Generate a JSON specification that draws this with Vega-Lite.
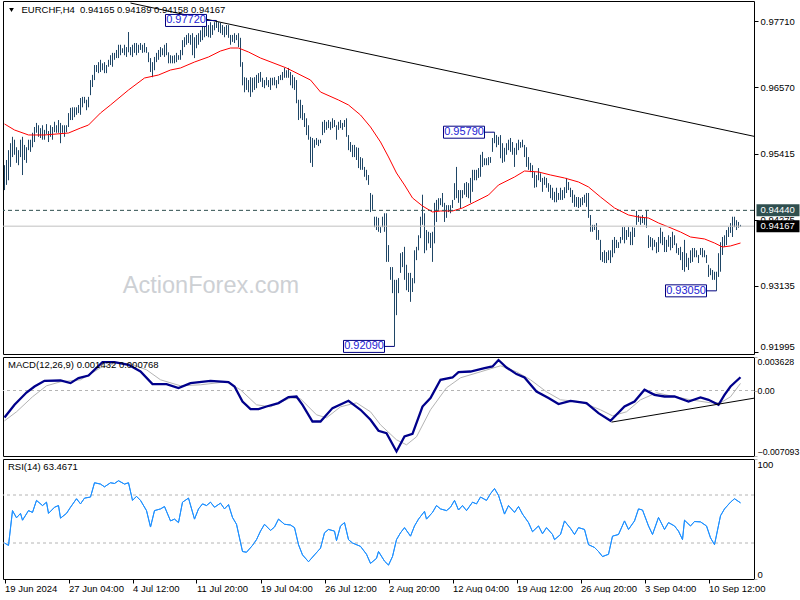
{
"$schema":"https://vega.github.io/schema/vega-lite/v6.json",
"background":"white",
"padding":{"left":-1,"top":0,"right":0,"bottom":0},
"bounds":"flush",
"spacing":3,
"config":{"view":{"stroke":"#000","strokeWidth":1},"axis":{"labelFont":"Liberation Sans","labelFontSize":9.5,"labelColor":"#000","tickColor":"#000","domain":false,"grid":false,"labelOverlap":false}},
"datasets":{
"one":[{}],
"bars":[
{"i":0,"h":0.9522,"l":0.9479},{"i":1,"h":0.9531,"l":0.9488},{"i":2,"h":0.9548,"l":0.9496},{"i":3,"h":0.9560,"l":0.9519},{"i":4,"h":0.9571,"l":0.9536},{"i":5,"h":0.9566,"l":0.9540},{"i":6,"h":0.9553,"l":0.9526},{"i":7,"h":0.9548,"l":0.9522},{"i":8,"h":0.9566,"l":0.9536},{"i":9,"h":0.9571,"l":0.9505},
{"i":10,"h":0.9557,"l":0.9531},{"i":11,"h":0.9553,"l":0.9526},{"i":12,"h":0.9566,"l":0.9548},{"i":13,"h":0.9566,"l":0.9545},{"i":14,"h":0.9578,"l":0.9553},{"i":15,"h":0.9588,"l":0.9562},{"i":16,"h":0.9595,"l":0.9578},{"i":17,"h":0.9591,"l":0.9571},{"i":18,"h":0.9586,"l":0.9569},{"i":19,"h":0.9591,"l":0.9566},
{"i":20,"h":0.9583,"l":0.9566},{"i":21,"h":0.9593,"l":0.9576},{"i":22,"h":0.9581,"l":0.9562},{"i":23,"h":0.9591,"l":0.9571},{"i":24,"h":0.9588,"l":0.9566},{"i":25,"h":0.9597,"l":0.9579},{"i":26,"h":0.9591,"l":0.9578},{"i":27,"h":0.9600,"l":0.9578},{"i":28,"h":0.9595,"l":0.9560},{"i":29,"h":0.9591,"l":0.9578},
{"i":30,"h":0.9591,"l":0.9571},{"i":31,"h":0.9591,"l":0.9579},{"i":32,"h":0.9612,"l":0.9588},{"i":33,"h":0.9621,"l":0.9600},{"i":34,"h":0.9622,"l":0.9600},{"i":35,"h":0.9622,"l":0.9605},{"i":36,"h":0.9622,"l":0.9609},{"i":37,"h":0.9626,"l":0.9612},{"i":38,"h":0.9638,"l":0.9609},{"i":39,"h":0.9640,"l":0.9622},
{"i":40,"h":0.9640,"l":0.9629},{"i":41,"h":0.9635,"l":0.9617},{"i":42,"h":0.9640,"l":0.9622},{"i":43,"h":0.9669,"l":0.9643},{"i":44,"h":0.9678,"l":0.9657},{"i":45,"h":0.9695,"l":0.9669},{"i":46,"h":0.9695,"l":0.9683},{"i":47,"h":0.9700,"l":0.9681},{"i":48,"h":0.9704,"l":0.9683},{"i":49,"h":0.9698,"l":0.9686},
{"i":50,"h":0.9700,"l":0.9681},{"i":51,"h":0.9695,"l":0.9681},{"i":52,"h":0.9704,"l":0.9692},{"i":53,"h":0.9712,"l":0.9695},{"i":54,"h":0.9716,"l":0.9692},{"i":55,"h":0.9716,"l":0.9704},{"i":56,"h":0.9721,"l":0.9707},{"i":57,"h":0.9730,"l":0.9707},{"i":58,"h":0.9730,"l":0.9712},{"i":59,"h":0.9724,"l":0.9716},
{"i":60,"h":0.9730,"l":0.9712},{"i":61,"h":0.9726,"l":0.9709},{"i":62,"h":0.9752,"l":0.9717},{"i":63,"h":0.9726,"l":0.9712},{"i":64,"h":0.9730,"l":0.9709},{"i":65,"h":0.9733,"l":0.9716},{"i":66,"h":0.9733,"l":0.9712},{"i":67,"h":0.9730,"l":0.9716},{"i":68,"h":0.9733,"l":0.9721},{"i":69,"h":0.9730,"l":0.9716},
{"i":70,"h":0.9733,"l":0.9717},{"i":71,"h":0.9726,"l":0.9716},{"i":72,"h":0.9717,"l":0.9700},{"i":73,"h":0.9707,"l":0.9683},{"i":74,"h":0.9700,"l":0.9674},{"i":75,"h":0.9709,"l":0.9686},{"i":76,"h":0.9716,"l":0.9700},{"i":77,"h":0.9721,"l":0.9704},{"i":78,"h":0.9726,"l":0.9709},{"i":79,"h":0.9724,"l":0.9712},
{"i":80,"h":0.9730,"l":0.9709},{"i":81,"h":0.9733,"l":0.9712},{"i":82,"h":0.9717,"l":0.9698},{"i":83,"h":0.9712,"l":0.9698},{"i":84,"h":0.9711,"l":0.9698},{"i":85,"h":0.9712,"l":0.9698},{"i":86,"h":0.9716,"l":0.9700},{"i":87,"h":0.9712,"l":0.9704},{"i":88,"h":0.9721,"l":0.9704},{"i":89,"h":0.9738,"l":0.9712},
{"i":90,"h":0.9743,"l":0.9726},{"i":91,"h":0.9747,"l":0.9730},{"i":92,"h":0.9750,"l":0.9733},{"i":93,"h":0.9747,"l":0.9730},{"i":94,"h":0.9750,"l":0.9712},{"i":95,"h":0.9743,"l":0.9707},{"i":96,"h":0.9747,"l":0.9724},{"i":97,"h":0.9750,"l":0.9730},{"i":98,"h":0.9755,"l":0.9735},{"i":99,"h":0.9768,"l":0.9738},
{"i":100,"h":0.9764,"l":0.9743},{"i":101,"h":0.9769,"l":0.9745},{"i":102,"h":0.9764,"l":0.9743},{"i":103,"h":0.9769,"l":0.9742},{"i":104,"h":0.9764,"l":0.9747},{"i":105,"h":0.9769,"l":0.9755},{"i":106,"h":0.9772,"l":0.9759},{"i":107,"h":0.9769,"l":0.9752},{"i":108,"h":0.9768,"l":0.9750},{"i":109,"h":0.9764,"l":0.9747},
{"i":110,"h":0.9761,"l":0.9743},{"i":111,"h":0.9764,"l":0.9747},{"i":112,"h":0.9764,"l":0.9742},{"i":113,"h":0.9747,"l":0.9730},{"i":114,"h":0.9747,"l":0.9735},{"i":115,"h":0.9750,"l":0.9733},{"i":116,"h":0.9747,"l":0.9738},{"i":117,"h":0.9750,"l":0.9726},{"i":118,"h":0.9742,"l":0.9692},{"i":119,"h":0.9700,"l":0.9660},
{"i":120,"h":0.9674,"l":0.9648},{"i":121,"h":0.9673,"l":0.9652},{"i":122,"h":0.9669,"l":0.9648},{"i":123,"h":0.9674,"l":0.9640},{"i":124,"h":0.9673,"l":0.9648},{"i":125,"h":0.9674,"l":0.9652},{"i":126,"h":0.9678,"l":0.9655},{"i":127,"h":0.9681,"l":0.9664},{"i":128,"h":0.9683,"l":0.9666},{"i":129,"h":0.9673,"l":0.9657},
{"i":130,"h":0.9669,"l":0.9655},{"i":131,"h":0.9674,"l":0.9660},{"i":132,"h":0.9669,"l":0.9657},{"i":133,"h":0.9673,"l":0.9652},{"i":134,"h":0.9673,"l":0.9660},{"i":135,"h":0.9674,"l":0.9660},{"i":136,"h":0.9669,"l":0.9655},{"i":137,"h":0.9676,"l":0.9662},{"i":138,"h":0.9678,"l":0.9669},{"i":139,"h":0.9683,"l":0.9669},
{"i":140,"h":0.9690,"l":0.9673},{"i":141,"h":0.9686,"l":0.9673},{"i":142,"h":0.9690,"l":0.9673},{"i":143,"h":0.9683,"l":0.9660},{"i":144,"h":0.9678,"l":0.9655},{"i":145,"h":0.9674,"l":0.9652},{"i":146,"h":0.9669,"l":0.9629},{"i":147,"h":0.9635,"l":0.9600},{"i":148,"h":0.9635,"l":0.9603},{"i":149,"h":0.9626,"l":0.9600},
{"i":150,"h":0.9612,"l":0.9588},{"i":151,"h":0.9603,"l":0.9574},{"i":152,"h":0.9591,"l":0.9566},{"i":153,"h":0.9571,"l":0.9526},{"i":154,"h":0.9569,"l":0.9519},{"i":155,"h":0.9566,"l":0.9552},{"i":156,"h":0.9569,"l":0.9557},{"i":157,"h":0.9566,"l":0.9555},{"i":158,"h":0.9566,"l":0.9560},{"i":159,"h":0.9597,"l":0.9574},
{"i":160,"h":0.9600,"l":0.9578},{"i":161,"h":0.9597,"l":0.9583},{"i":162,"h":0.9600,"l":0.9586},{"i":163,"h":0.9597,"l":0.9583},{"i":164,"h":0.9603,"l":0.9586},{"i":165,"h":0.9600,"l":0.9588},{"i":166,"h":0.9591,"l":0.9566},{"i":167,"h":0.9597,"l":0.9583},{"i":168,"h":0.9600,"l":0.9586},{"i":169,"h":0.9595,"l":0.9583},
{"i":170,"h":0.9600,"l":0.9588},{"i":171,"h":0.9603,"l":0.9571},{"i":172,"h":0.9574,"l":0.9548},{"i":173,"h":0.9562,"l":0.9545},{"i":174,"h":0.9557,"l":0.9536},{"i":175,"h":0.9557,"l":0.9536},{"i":176,"h":0.9553,"l":0.9531},{"i":177,"h":0.9552,"l":0.9517},{"i":178,"h":0.9536,"l":0.9514},{"i":179,"h":0.9534,"l":0.9514},
{"i":180,"h":0.9519,"l":0.9502},{"i":181,"h":0.9514,"l":0.9496},{"i":182,"h":0.9505,"l":0.9488},{"i":183,"h":0.9474,"l":0.9441},{"i":184,"h":0.9471,"l":0.9445},{"i":185,"h":0.9433,"l":0.9415},{"i":186,"h":0.9433,"l":0.9410},{"i":187,"h":0.9431,"l":0.9407},{"i":188,"h":0.9415,"l":0.9405},{"i":189,"h":0.9433,"l":0.9415},
{"i":190,"h":0.9439,"l":0.9407},{"i":191,"h":0.9439,"l":0.9355},{"i":192,"h":0.9384,"l":0.9355},{"i":193,"h":0.9346,"l":0.9324},{"i":194,"h":0.9346,"l":0.9301},{"i":195,"h":0.9324,"l":0.9209},{"i":196,"h":0.9324,"l":0.9263},{"i":197,"h":0.9327,"l":0.9301},{"i":198,"h":0.9370,"l":0.9336},{"i":199,"h":0.9372,"l":0.9346},
{"i":200,"h":0.9381,"l":0.9324},{"i":201,"h":0.9350,"l":0.9306},{"i":202,"h":0.9336,"l":0.9303},{"i":203,"h":0.9336,"l":0.9286},{"i":204,"h":0.9327,"l":0.9303},{"i":205,"h":0.9375,"l":0.9318},{"i":206,"h":0.9381,"l":0.9358},{"i":207,"h":0.9401,"l":0.9375},{"i":208,"h":0.9433,"l":0.9396},{"i":209,"h":0.9471,"l":0.9419},
{"i":210,"h":0.9439,"l":0.9370},{"i":211,"h":0.9410,"l":0.9375},{"i":212,"h":0.9407,"l":0.9387},{"i":213,"h":0.9405,"l":0.9379},{"i":214,"h":0.9407,"l":0.9355},{"i":215,"h":0.9457,"l":0.9387},{"i":216,"h":0.9462,"l":0.9424},{"i":217,"h":0.9465,"l":0.9445},{"i":218,"h":0.9465,"l":0.9453},{"i":219,"h":0.9474,"l":0.9450},
{"i":220,"h":0.9457,"l":0.9424},{"i":221,"h":0.9453,"l":0.9431},{"i":222,"h":0.9453,"l":0.9441},{"i":223,"h":0.9453,"l":0.9439},{"i":224,"h":0.9462,"l":0.9448},{"i":225,"h":0.9491,"l":0.9462},{"i":226,"h":0.9519,"l":0.9465},{"i":227,"h":0.9479,"l":0.9457},{"i":228,"h":0.9479,"l":0.9448},{"i":229,"h":0.9479,"l":0.9465},
{"i":230,"h":0.9491,"l":0.9471},{"i":231,"h":0.9493,"l":0.9467},{"i":232,"h":0.9491,"l":0.9465},{"i":233,"h":0.9500,"l":0.9457},{"i":234,"h":0.9514,"l":0.9476},{"i":235,"h":0.9514,"l":0.9496},{"i":236,"h":0.9514,"l":0.9496},{"i":237,"h":0.9517,"l":0.9500},{"i":238,"h":0.9540,"l":0.9502},{"i":239,"h":0.9545,"l":0.9519},
{"i":240,"h":0.9534,"l":0.9522},{"i":241,"h":0.9534,"l":0.9522},{"i":242,"h":0.9536,"l":0.9522},{"i":243,"h":0.9536,"l":0.9526},{"i":244,"h":0.9569,"l":0.9545},{"i":245,"h":0.9579,"l":0.9560},{"i":246,"h":0.9574,"l":0.9553},{"i":247,"h":0.9571,"l":0.9557},{"i":248,"h":0.9574,"l":0.9534},{"i":249,"h":0.9560,"l":0.9526},
{"i":250,"h":0.9552,"l":0.9528},{"i":251,"h":0.9560,"l":0.9540},{"i":252,"h":0.9566,"l":0.9548},{"i":253,"h":0.9569,"l":0.9545},{"i":254,"h":0.9562,"l":0.9540},{"i":255,"h":0.9552,"l":0.9519},{"i":256,"h":0.9560,"l":0.9540},{"i":257,"h":0.9566,"l":0.9548},{"i":258,"h":0.9562,"l":0.9552},{"i":259,"h":0.9566,"l":0.9553},
{"i":260,"h":0.9557,"l":0.9536},{"i":261,"h":0.9553,"l":0.9519},{"i":262,"h":0.9536,"l":0.9514},{"i":263,"h":0.9526,"l":0.9510},{"i":264,"h":0.9522,"l":0.9500},{"i":265,"h":0.9510,"l":0.9483},{"i":266,"h":0.9505,"l":0.9484},{"i":267,"h":0.9517,"l":0.9496},{"i":268,"h":0.9508,"l":0.9493},{"i":269,"h":0.9500,"l":0.9476},
{"i":270,"h":0.9502,"l":0.9488},{"i":271,"h":0.9500,"l":0.9483},{"i":272,"h":0.9491,"l":0.9476},{"i":273,"h":0.9488,"l":0.9465},{"i":274,"h":0.9483,"l":0.9462},{"i":275,"h":0.9476,"l":0.9458},{"i":276,"h":0.9483,"l":0.9458},{"i":277,"h":0.9474,"l":0.9462},{"i":278,"h":0.9483,"l":0.9462},{"i":279,"h":0.9479,"l":0.9462},
{"i":280,"h":0.9484,"l":0.9465},{"i":281,"h":0.9500,"l":0.9474},{"i":282,"h":0.9493,"l":0.9479},{"i":283,"h":0.9483,"l":0.9467},{"i":284,"h":0.9479,"l":0.9457},{"i":285,"h":0.9471,"l":0.9450},{"i":286,"h":0.9467,"l":0.9450},{"i":287,"h":0.9467,"l":0.9448},{"i":288,"h":0.9465,"l":0.9450},{"i":289,"h":0.9467,"l":0.9453},
{"i":290,"h":0.9471,"l":0.9457},{"i":291,"h":0.9474,"l":0.9450},{"i":292,"h":0.9474,"l":0.9431},{"i":293,"h":0.9436,"l":0.9407},{"i":294,"h":0.9419,"l":0.9407},{"i":295,"h":0.9419,"l":0.9410},{"i":296,"h":0.9422,"l":0.9393},{"i":297,"h":0.9410,"l":0.9393},{"i":298,"h":0.9393,"l":0.9358},{"i":299,"h":0.9372,"l":0.9355},
{"i":300,"h":0.9375,"l":0.9353},{"i":301,"h":0.9372,"l":0.9353},{"i":302,"h":0.9375,"l":0.9358},{"i":303,"h":0.9375,"l":0.9353},{"i":304,"h":0.9393,"l":0.9363},{"i":305,"h":0.9398,"l":0.9370},{"i":306,"h":0.9393,"l":0.9379},{"i":307,"h":0.9389,"l":0.9379},{"i":308,"h":0.9398,"l":0.9387},{"i":309,"h":0.9415,"l":0.9393},
{"i":310,"h":0.9415,"l":0.9387},{"i":311,"h":0.9410,"l":0.9393},{"i":312,"h":0.9415,"l":0.9398},{"i":313,"h":0.9407,"l":0.9384},{"i":314,"h":0.9415,"l":0.9384},{"i":315,"h":0.9414,"l":0.9398},{"i":316,"h":0.9443,"l":0.9419},{"i":317,"h":0.9436,"l":0.9424},{"i":318,"h":0.9433,"l":0.9419},{"i":319,"h":0.9436,"l":0.9422},
{"i":320,"h":0.9431,"l":0.9419},{"i":321,"h":0.9444,"l":0.9414},{"i":322,"h":0.9401,"l":0.9379},{"i":323,"h":0.9398,"l":0.9381},{"i":324,"h":0.9396,"l":0.9375},{"i":325,"h":0.9393,"l":0.9381},{"i":326,"h":0.9389,"l":0.9370},{"i":327,"h":0.9398,"l":0.9372},{"i":328,"h":0.9414,"l":0.9387},{"i":329,"h":0.9407,"l":0.9384},
{"i":330,"h":0.9398,"l":0.9372},{"i":331,"h":0.9393,"l":0.9372},{"i":332,"h":0.9401,"l":0.9381},{"i":333,"h":0.9398,"l":0.9375},{"i":334,"h":0.9407,"l":0.9379},{"i":335,"h":0.9401,"l":0.9384},{"i":336,"h":0.9387,"l":0.9370},{"i":337,"h":0.9379,"l":0.9367},{"i":338,"h":0.9381,"l":0.9358},{"i":339,"h":0.9372,"l":0.9341},
{"i":340,"h":0.9393,"l":0.9338},{"i":341,"h":0.9370,"l":0.9346},{"i":342,"h":0.9362,"l":0.9341},{"i":343,"h":0.9375,"l":0.9353},{"i":344,"h":0.9379,"l":0.9355},{"i":345,"h":0.9379,"l":0.9363},{"i":346,"h":0.9375,"l":0.9363},{"i":347,"h":0.9367,"l":0.9353},{"i":348,"h":0.9379,"l":0.9367},{"i":349,"h":0.9379,"l":0.9363},
{"i":350,"h":0.9375,"l":0.9363},{"i":351,"h":0.9367,"l":0.9353},{"i":352,"h":0.9350,"l":0.9329},{"i":353,"h":0.9344,"l":0.9332},{"i":354,"h":0.9341,"l":0.9324},{"i":355,"h":0.9338,"l":0.9324},{"i":356,"h":0.9338,"l":0.9305},{"i":357,"h":0.9370,"l":0.9329},{"i":358,"h":0.9389,"l":0.9338},{"i":359,"h":0.9398,"l":0.9367},
{"i":360,"h":0.9401,"l":0.9381},{"i":361,"h":0.9410,"l":0.9384},{"i":362,"h":0.9415,"l":0.9398},{"i":363,"h":0.9422,"l":0.9405},{"i":364,"h":0.9433,"l":0.9398},{"i":365,"h":0.9433,"l":0.9415},{"i":366,"h":0.9427,"l":0.9410},{"i":367,"h":0.9424,"l":0.9414},{"i":368,"h":0.94189,"l":0.94158}
],
"ma":[
{"i":0,"v":0.95932},{"i":5,"v":0.95828},{"i":12,"v":0.95742},{"i":20,"v":0.95742},{"i":32,"v":0.95776},{"i":38,"v":0.95862},{"i":42,"v":0.95914},{"i":48,"v":0.96122},{"i":53,"v":0.9626},{"i":62,"v":0.96519},{"i":70,"v":0.96726},{"i":77,"v":0.96778},{"i":83,"v":0.96864},{"i":88,"v":0.96899},{"i":95,"v":0.97002},{"i":102,"v":0.97089},{"i":108,"v":0.97192},{"i":113,"v":0.97244},{"i":117,"v":0.97244},{"i":122,"v":0.97175},{"i":128,"v":0.97071},{"i":141,"v":0.96899},{"i":153,"v":0.96691},{"i":158,"v":0.96484},{"i":167,"v":0.96346},{"i":172,"v":0.9626},{"i":178,"v":0.96087},{"i":183,"v":0.9588},{"i":188,"v":0.95621},{"i":192,"v":0.95362},{"i":196,"v":0.95085},{"i":200,"v":0.94878},{"i":204,"v":0.94654},{"i":209,"v":0.94515},{"i":214,"v":0.94412},{"i":218,"v":0.94429},{"i":224,"v":0.94429},{"i":229,"v":0.94481},{"i":235,"v":0.94584},{"i":242,"v":0.94705},{"i":247,"v":0.94878},{"i":255,"v":0.95016},{"i":260,"v":0.9512},{"i":267,"v":0.95103},{"i":273,"v":0.95051},{"i":280,"v":0.94999},{"i":287,"v":0.9493},{"i":292,"v":0.94844},{"i":298,"v":0.94671},{"i":305,"v":0.94481},{"i":312,"v":0.9436},{"i":317,"v":0.94325},{"i":322,"v":0.94308},{"i":327,"v":0.94222},{"i":332,"v":0.94153},{"i":338,"v":0.94066},{"i":343,"v":0.9398},{"i":350,"v":0.93946},{"i":355,"v":0.93876},{"i":359,"v":0.93807},{"i":363,"v":0.93825},{"i":368,"v":0.93876}
],
"notes":[
{"t":"0.97720","i":106,"p":0.9772},{"t":"0.92090","i":195,"p":0.9209},{"t":"0.95790","i":245,"p":0.9579},{"t":"0.93050","i":356,"p":0.9305}
],
"macd":[
{"i":0,"m":-0.002924},{"i":5,"m":-0.001549},{"i":11,"m":-0.000217},{"i":15,"m":0.000433},{"i":20,"m":0.001051},{"i":28,"m":0.001083},{"i":33,"m":0.000801},{"i":37,"m":0.001343},{"i":42,"m":0.001625},{"i":49,"m":0.003076},{"i":55,"m":0.003076},{"i":62,"m":0.002783},{"i":68,"m":0.002058},{"i":74,"m":0.000693},{"i":81,"m":0.000693},{"i":87,"m":0.00026},{"i":93,"m":0.000801},{"i":103,"m":0.001051},{"i":112,"m":0.00091},{"i":115,"m":0.000433},{"i":119,"m":-0.001191},{"i":123,"m":-0.002014},{"i":127,"m":-0.002014},{"i":131,"m":-0.001733},{"i":137,"m":-0.001365},{"i":142,"m":-0.000715},{"i":146,"m":-0.00065},{"i":149,"m":-0.001549},{"i":154,"m":-0.003357},{"i":158,"m":-0.003357},{"i":164,"m":-0.001906},{"i":172,"m":-0.001115},{"i":178,"m":-0.00209},{"i":183,"m":-0.003173},{"i":187,"m":-0.004364},{"i":191,"m":-0.004614},{"i":196,"m":-0.0066},{"i":200,"m":-0.004982},{"i":204,"m":-0.004689},{"i":209,"m":-0.001733},{"i":213,"m":-0.000823},{"i":218,"m":0.001159},{"i":224,"m":0.001408},{"i":227,"m":0.001993},{"i":233,"m":0.002058},{"i":240,"m":0.002426},{"i":244,"m":0.002599},{"i":247,"m":0.0033},{"i":251,"m":0.002491},{"i":256,"m":0.001776},{"i":260,"m":0.001408},{"i":266,"m":-0.000108},{"i":272,"m":-0.000823},{"i":277,"m":-0.001473},{"i":283,"m":-0.001115},{"i":291,"m":-0.001365},{"i":297,"m":-0.002448},{"i":303,"m":-0.003281},{"i":310,"m":-0.001733},{"i":315,"m":-0.001191},{"i":320,"m":0.000076},{"i":325,"m":-0.000466},{"i":330,"m":-0.00065},{"i":335,"m":-0.00065},{"i":342,"m":-0.001191},{"i":348,"m":-0.000758},{"i":352,"m":-0.001007},{"i":357,"m":-0.001549},{"i":360,"m":-0.000466},{"i":363,"m":0.000433},{"i":368,"m":0.001432}
],
"sig":[
{"i":0,"s":-0.003281},{"i":6,"s":-0.002307},{"i":14,"s":-0.000682},{"i":21,"s":0.000509},{"i":28,"s":0.000942},{"i":38,"s":0.001159},{"i":48,"s":0.002458},{"i":56,"s":0.003},{"i":63,"s":0.002892},{"i":71,"s":0.002242},{"i":78,"s":0.001159},{"i":88,"s":0.000509},{"i":98,"s":0.000617},{"i":111,"s":0.000942},{"i":118,"s":0.000076},{"i":126,"s":-0.001549},{"i":133,"s":-0.001765},{"i":143,"s":-0.000791},{"i":148,"s":-0.000899},{"i":156,"s":-0.002632},{"i":161,"s":-0.002957},{"i":168,"s":-0.001765},{"i":176,"s":-0.001332},{"i":183,"s":-0.002307},{"i":188,"s":-0.003715},{"i":196,"s":-0.005339},{"i":201,"s":-0.005881},{"i":206,"s":-0.005014},{"i":213,"s":-0.00209},{"i":221,"s":0.000292},{"i":228,"s":0.001375},{"i":238,"s":0.002025},{"i":248,"s":0.002675},{"i":256,"s":0.002025},{"i":263,"s":0.001159},{"i":271,"s":-0.000141},{"i":278,"s":-0.001007},{"i":288,"s":-0.001224},{"i":298,"s":-0.00209},{"i":304,"s":-0.00274},{"i":311,"s":-0.002307},{"i":318,"s":-0.001007},{"i":326,"s":-0.000249},{"i":333,"s":-0.000574},{"i":343,"s":-0.001007},{"i":353,"s":-0.001332},{"i":358,"s":-0.001332},{"i":363,"s":-0.000682},{"i":368,"s":0.000768}
],
"rsi":[
{"i":0,"r":30},{"i":2,"r":28},{"i":4,"r":57},{"i":6,"r":51},{"i":8,"r":54.7},{"i":9,"r":49},{"i":12,"r":57},{"i":14,"r":55.5},{"i":16,"r":65.5},{"i":19,"r":61.2},{"i":21,"r":64},{"i":22,"r":54.7},{"i":25,"r":59.8},{"i":27,"r":61.2},{"i":28,"r":50.7},{"i":31,"r":54.7},{"i":33,"r":59.8},{"i":36,"r":66.9},{"i":38,"r":62.6},{"i":40,"r":67.4},{"i":43,"r":68.3},{"i":45,"r":80.2},{"i":48,"r":79.1},{"i":50,"r":76.8},{"i":53,"r":80.2},{"i":55,"r":79.6},{"i":57,"r":81.9},{"i":60,"r":79.1},{"i":62,"r":80.2},{"i":64,"r":65.5},{"i":66,"r":68.9},{"i":68,"r":65.5},{"i":71,"r":57},{"i":73,"r":43.3},{"i":75,"r":57},{"i":78,"r":58.4},{"i":80,"r":60.4},{"i":83,"r":48.4},{"i":85,"r":49.9},{"i":87,"r":47},{"i":89,"r":64},{"i":92,"r":67.4},{"i":95,"r":49.9},{"i":97,"r":58.4},{"i":99,"r":62.6},{"i":101,"r":61.2},{"i":103,"r":64},{"i":105,"r":59.8},{"i":108,"r":63.2},{"i":110,"r":58.4},{"i":112,"r":62},{"i":114,"r":51.3},{"i":116,"r":45.6},{"i":119,"r":22.9},{"i":121,"r":22.3},{"i":124,"r":28},{"i":126,"r":32.8},{"i":128,"r":39.9},{"i":130,"r":45.6},{"i":133,"r":40.5},{"i":135,"r":43.3},{"i":137,"r":49.9},{"i":140,"r":45.6},{"i":143,"r":45},{"i":145,"r":42.8},{"i":147,"r":28.6},{"i":149,"r":20.1},{"i":152,"r":14.4},{"i":155,"r":20.1},{"i":158,"r":25.7},{"i":160,"r":38.5},{"i":162,"r":41.3},{"i":165,"r":39.9},{"i":166,"r":32},{"i":168,"r":44.2},{"i":170,"r":47},{"i":172,"r":32.8},{"i":174,"r":30},{"i":178,"r":27.2},{"i":181,"r":20.6},{"i":183,"r":13},{"i":186,"r":17.2},{"i":187,"r":22.9},{"i":190,"r":14.9},{"i":192,"r":11.6},{"i":194,"r":18.7},{"i":196,"r":32.8},{"i":198,"r":38.5},{"i":200,"r":42.8},{"i":203,"r":35.7},{"i":205,"r":44.2},{"i":207,"r":49.9},{"i":210,"r":56.4},{"i":211,"r":49.9},{"i":214,"r":55.5},{"i":216,"r":61.2},{"i":218,"r":58.4},{"i":221,"r":57},{"i":223,"r":59.8},{"i":225,"r":65.5},{"i":227,"r":57.5},{"i":229,"r":61.2},{"i":231,"r":57},{"i":234,"r":64},{"i":236,"r":62.6},{"i":238,"r":68.3},{"i":241,"r":65.5},{"i":243,"r":71.1},{"i":245,"r":75.4},{"i":247,"r":69.7},{"i":250,"r":54.1},{"i":252,"r":61.2},{"i":255,"r":55.5},{"i":257,"r":60.4},{"i":259,"r":54.1},{"i":262,"r":47},{"i":264,"r":39.4},{"i":267,"r":44.2},{"i":269,"r":37.7},{"i":271,"r":42.8},{"i":274,"r":37.1},{"i":275,"r":32.8},{"i":278,"r":37.1},{"i":280,"r":48.4},{"i":283,"r":42.2},{"i":285,"r":37.1},{"i":287,"r":42.8},{"i":290,"r":41.3},{"i":292,"r":28.6},{"i":295,"r":26.3},{"i":297,"r":22.9},{"i":299,"r":18.7},{"i":302,"r":20.6},{"i":304,"r":35.7},{"i":307,"r":37.1},{"i":310,"r":48.4},{"i":312,"r":41.3},{"i":315,"r":48.4},{"i":317,"r":58.4},{"i":319,"r":57.5},{"i":322,"r":44.2},{"i":324,"r":37.1},{"i":327,"r":51.3},{"i":330,"r":41.3},{"i":332,"r":47},{"i":335,"r":44.2},{"i":337,"r":39.9},{"i":339,"r":32.8},{"i":340,"r":49},{"i":343,"r":44.2},{"i":345,"r":47.9},{"i":348,"r":47.6},{"i":351,"r":44.2},{"i":353,"r":34.3},{"i":355,"r":28.6},{"i":358,"r":52.7},{"i":360,"r":58.4},{"i":363,"r":64},{"i":365,"r":66.9},{"i":368,"r":63.4671}
]
},
"vconcat":[
{
"width":751,"height":353,
"layer":[
{"data":{"name":"bars"},"mark":{"type":"rule","color":"#1f4666","strokeWidth":1},
 "encoding":{
  "x":{"field":"i","type":"quantitative","scale":{"domain":[-0.75,374.75],"nice":false,"zero":false},"axis":null},
  "y":{"field":"l","type":"quantitative","scale":{"domain":[0.91959,0.98056],"nice":false,"zero":false},
   "axis":{"orient":"right","title":null,"values":[0.9771,0.9714,0.9657,0.95985,0.95415,0.94845,0.94275,0.93705,0.93135,0.92565,0.91995],"format":".5f","tickSize":4,"labelPadding":2,"labelFlush":3}},
  "y2":{"field":"h"}}},
{"data":{"name":"ma"},"mark":{"type":"line","color":"#ff0000","strokeWidth":1},
 "encoding":{"x":{"field":"i","type":"quantitative","axis":null},"y":{"field":"v","type":"quantitative","axis":{"title":null}}}},
{"data":{"values":[{"i":63,"p":0.98021},{"i":375,"p":0.95717}]},"mark":{"type":"line","color":"#000","strokeWidth":1},
 "encoding":{"x":{"field":"i","type":"quantitative","axis":null},"y":{"field":"p","type":"quantitative","axis":{"title":null}}}},
{"data":{"name":"one"},"mark":{"type":"rule","color":"#2f4f4f","strokeDash":[4,3],"strokeWidth":1},"encoding":{"y":{"datum":0.9444,"type":"quantitative","axis":{"title":null}}}},
{"data":{"name":"one"},"mark":{"type":"rule","color":"#c0c0c0","strokeWidth":1},"encoding":{"y":{"datum":0.94167,"type":"quantitative","axis":{"title":null}}}},
{"data":{"name":"notes"},"mark":{"type":"rect","fill":"white","stroke":"#000080","strokeWidth":1,"xOffset":-51,"x2Offset":-10,"yOffset":-6,"y2Offset":6},
 "encoding":{"x":{"field":"i","type":"quantitative","axis":null},"x2":{"field":"i"},"y":{"field":"p","type":"quantitative","axis":{"title":null}},"y2":{"field":"p"}}},
{"data":{"name":"notes"},"mark":{"type":"rule","color":"#000080","strokeWidth":1,"xOffset":-10},
 "encoding":{"x":{"field":"i","type":"quantitative","axis":null},"x2":{"field":"i"},"y":{"field":"p","type":"quantitative","axis":{"title":null}}}},
{"data":{"name":"notes"},"mark":{"type":"text","color":"#1c1cd4","font":"Liberation Sans","fontSize":11,"xOffset":-30.5,"align":"center","baseline":"middle"},
 "encoding":{"x":{"field":"i","type":"quantitative","axis":null},"y":{"field":"p","type":"quantitative","axis":{"title":null}},"text":{"field":"t"}}},
{"data":{"name":"one"},"mark":{"type":"rect","fill":"#2f4f4f","yOffset":-6,"y2Offset":6},"encoding":{"x":{"datum":376,"type":"quantitative","axis":null},"x2":{"datum":397.5},"y":{"datum":0.9444,"type":"quantitative","axis":{"title":null}},"y2":{"datum":0.9444}}},
{"data":{"name":"one"},"mark":{"type":"text","color":"white","font":"Liberation Sans","fontSize":9.5,"align":"left","baseline":"middle"},"encoding":{"x":{"datum":378,"type":"quantitative","axis":null},"y":{"datum":0.9444,"type":"quantitative","axis":{"title":null}},"text":{"value":"0.94440"}}},
{"data":{"name":"one"},"mark":{"type":"rect","fill":"#000","yOffset":-6,"y2Offset":6},"encoding":{"x":{"datum":376,"type":"quantitative","axis":null},"x2":{"datum":397.5},"y":{"datum":0.94167,"type":"quantitative","axis":{"title":null}},"y2":{"datum":0.94167}}},
{"data":{"name":"one"},"mark":{"type":"text","color":"white","font":"Liberation Sans","fontSize":9.5,"align":"left","baseline":"middle"},"encoding":{"x":{"datum":378,"type":"quantitative","axis":null},"y":{"datum":0.94167,"type":"quantitative","axis":{"title":null}},"text":{"value":"0.94167"}}},
{"data":{"name":"one"},"mark":{"type":"text","color":"#cdd0d4","font":"Liberation Sans","fontSize":23.5,"align":"center","baseline":"middle"},"encoding":{"x":{"datum":103.25,"type":"quantitative","axis":null},"y":{"datum":0.93134,"type":"quantitative","axis":{"title":null}},"text":{"value":"ActionForex.com"}}},
{"data":{"name":"one"},"mark":{"type":"point","shape":"triangle-down","filled":true,"color":"#000","size":22,"opacity":1},"encoding":{"x":{"datum":3.5,"type":"quantitative","axis":null},"y":{"datum":0.97901,"type":"quantitative","axis":{"title":null}}}},
{"data":{"name":"one"},"mark":{"type":"text","color":"#000","font":"Liberation Sans","fontSize":9.5,"align":"left","baseline":"middle"},"encoding":{"x":{"datum":8.5,"type":"quantitative","axis":null},"y":{"datum":0.97901,"type":"quantitative","axis":{"title":null}},"text":{"value":"EURCHF,H4\u00a0\u00a00.94165 0.94189 0.94158 0.94167"}}}
]
},
{
"width":751,"height":99,
"layer":[
{"data":{"name":"one"},"mark":{"type":"rule","color":"#b4b4b4","strokeDash":[3,3],"strokeWidth":1},"encoding":{"y":{"datum":0,"type":"quantitative","scale":{"domain":[-0.007093,0.003628],"nice":false,"zero":false},
  "axis":{"orient":"right","title":null,"values":[0.003628,0,-0.007093],"labelExpr":"datum.value == 0 ? '0.00' : format(datum.value, '.6f')","labelFlush":true,"labelFontSize":8.8,"tickSize":3,"tickColor":"#b4b4b4","labelPadding":0}}}},
{"data":{"name":"sig"},"mark":{"type":"line","color":"#b4b4b4","strokeWidth":1},
 "encoding":{"x":{"field":"i","type":"quantitative","scale":{"domain":[-0.75,374.75],"nice":false,"zero":false},"axis":null},"y":{"field":"s","type":"quantitative","axis":{"title":null}}}},
{"data":{"name":"macd"},"mark":{"type":"line","color":"#00008b","strokeWidth":2.3},
 "encoding":{"x":{"field":"i","type":"quantitative","axis":null},"y":{"field":"m","type":"quantitative","axis":{"title":null}}}},
{"data":{"values":[{"i":303.5,"m":-0.003422},{"i":375,"m":-0.000823}]},"mark":{"type":"line","color":"#000","strokeWidth":1},
 "encoding":{"x":{"field":"i","type":"quantitative","axis":null},"y":{"field":"m","type":"quantitative","axis":{"title":null}}}},
{"data":{"name":"one"},"mark":{"type":"text","color":"#000","font":"Liberation Sans","fontSize":9.5,"align":"left","baseline":"middle"},"encoding":{"x":{"datum":1.75,"type":"quantitative","axis":null},"y":{"datum":0.002762,"type":"quantitative","axis":{"title":null}},"text":{"value":"MACD(12,26,9) 0.001432 0.000768"}}}
]
},
{
"width":751,"height":120,
"layer":[
{"data":{"name":"rsi"},"mark":{"type":"line","color":"#1e90ff","strokeWidth":1},
 "encoding":{"x":{"field":"i","type":"quantitative","scale":{"domain":[-0.75,374.75],"nice":false,"zero":false},
   "axis":{"orient":"bottom","title":null,"values":[0,32,64,96,128,160,192,224,256,288,320,352],
   "labelExpr":"['19 Jun 2024','27 Jun 04:00','4 Jul 12:00','11 Jul 20:00','19 Jul 04:00','26 Jul 12:00','2 Aug 20:00','12 Aug 04:00','19 Aug 12:00','26 Aug 20:00','3 Sep 04:00','10 Sep 12:00'][round(datum.value/32)]",
   "labelAlign":"left","labelPadding":0,"tickSize":4,"labelFlush":false,"labelBound":false}},
  "y":{"field":"r","type":"quantitative","scale":{"domain":[0,100],"nice":false,"zero":false},
   "axis":{"orient":"right","title":null,"values":[0,30,70,100],"labelFlush":true,"tickSize":3,"tickColor":"#b4b4b4","labelPadding":0}}}},
{"data":{"name":"one"},"mark":{"type":"rule","color":"#b4b4b4","strokeDash":[3,3],"strokeWidth":1},"encoding":{"y":{"datum":70,"type":"quantitative","axis":{"title":null}}}},
{"data":{"name":"one"},"mark":{"type":"rule","color":"#b4b4b4","strokeDash":[3,3],"strokeWidth":1},"encoding":{"y":{"datum":30,"type":"quantitative","axis":{"title":null}}}},
{"data":{"name":"rsi"},"mark":{"type":"line","color":"#1e90ff","strokeWidth":1},
 "encoding":{"x":{"field":"i","type":"quantitative","axis":{"title":null}},"y":{"field":"r","type":"quantitative","axis":{"title":null}}}},
{"data":{"name":"one"},"mark":{"type":"text","color":"#000","font":"Liberation Sans","fontSize":9.5,"align":"left","baseline":"middle"},"encoding":{"x":{"datum":1.75,"type":"quantitative","axis":{"title":null}},"y":{"datum":93.3,"type":"quantitative","axis":{"title":null}},"text":{"value":"RSI(14) 63.4671"}}}
]
}
]
}
